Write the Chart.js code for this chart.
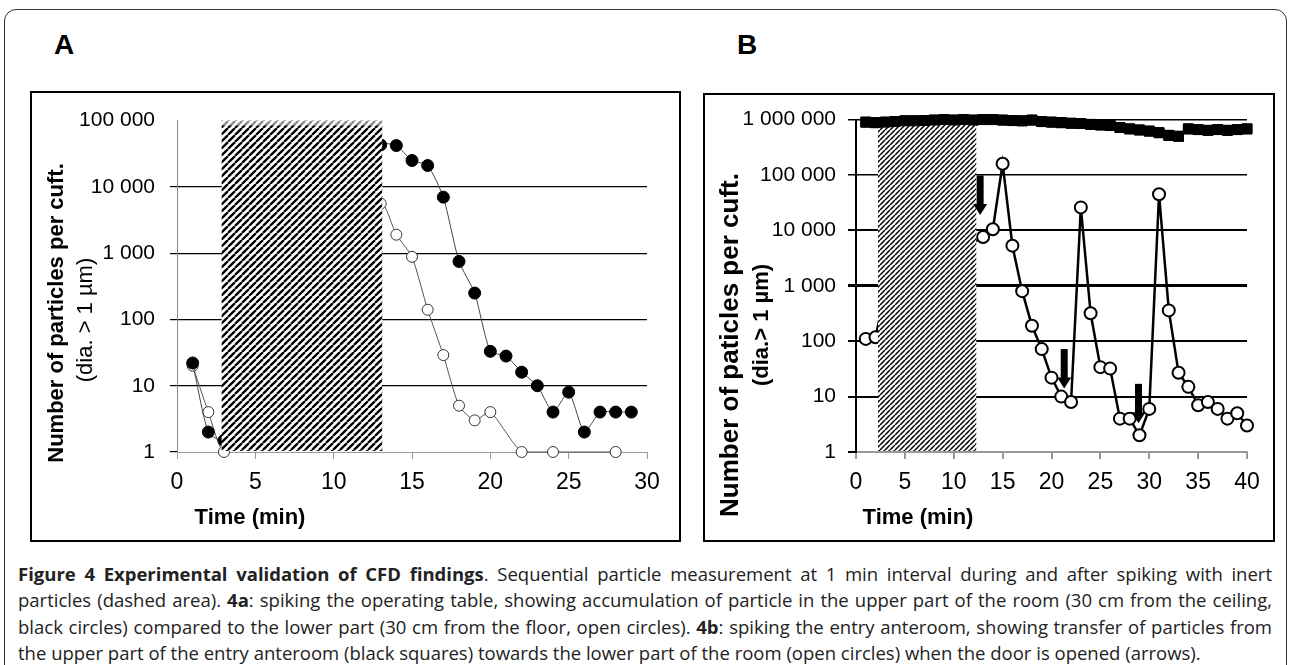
<!DOCTYPE html>
<html>
<head>
<meta charset="utf-8">
<script src="https://cdn.jsdelivr.net/npm/chart.js@4.4.1/dist/chart.umd.min.js"></script>
<style>
  body { margin: 0; width: 1290px; height: 665px; background: #fff; position: relative; overflow: hidden; }
  #frame { position: absolute; left: 4px; top: 9px; width: 1283px; height: 720px; border: 1.5px solid #333; border-radius: 12px; box-sizing: border-box; }
  .panel-label { position: absolute; font: bold 28px "Liberation Sans", Arial, sans-serif; color: #000; line-height: 1; }
  .box { position: absolute; border: 2px solid #000; box-sizing: border-box; }
  .box canvas { position: absolute; left: 0; top: 0; }
  #caption { position: absolute; left: 18px; top: 561px; width: 1254px; font-family: "Open Sans", sans-serif; font-size: 18.5px; line-height: 26.3px; color: #222; }
  #caption .j { text-align: justify; text-align-last: justify; }
</style>
</head>
<body>
<div id="frame"></div>
<div class="panel-label" style="left:54px; top:31px;">A</div>
<div class="panel-label" style="left:737px; top:31px;">B</div>

<div class="box" style="left:30px; top:91px; width:651px; height:451px;">
  <canvas id="chartA" width="647" height="447"></canvas>
</div>
<div class="box" style="left:703px; top:93px; width:572px; height:449px;">
  <canvas id="chartB" width="568" height="445"></canvas>
</div>

<div id="caption">
  <div class="j"><b>Figure 4 Experimental validation of CFD findings</b>. Sequential particle measurement at 1 min interval during and after spiking with inert</div>
  <div class="j">particles (dashed area). <b>4a</b>: spiking the operating table, showing accumulation of particle in the upper part of the room (30 cm from the ceiling,</div>
  <div class="j">black circles) compared to the lower part (30 cm from the floor, open circles). <b>4b</b>: spiking the entry anteroom, showing transfer of particles from</div>
  <div>the upper part of the entry anteroom (black squares) towards the lower part of the room (open circles) when the door is opened (arrows).</div>
</div>

<script>
// Panel A data (minutes 1..29), null = hidden under the spiking area or no reading
const timeA = [1,2,3,4,5,6,7,8,9,10,11,12,13,14,15,16,17,18,19,20,21,22,23,24,25,26,27,28,29];
const ceilingA = [22,2,1.5,null,null,null,null,null,null,null,null,null,43000,42000,25000,21000,7000,750,250,33,28,16,10,4,8,2,4,4,4];
const floorA = [20,4,1,null,null,null,null,null,null,null,null,null,5600,1900,880,140,29,5,3,4,null,1,null,1,null,null,null,1,null];
const ticksA = [1,10,100,1000,10000,100000];
const spikeA = [2.85, 13.1];
const spikeTopA = 100000;

// Panel B data (minutes 1..40)
const timeB = [1,2,3,4,5,6,7,8,9,10,11,12,13,14,15,16,17,18,19,20,21,22,23,24,25,26,27,28,29,30,31,32,33,34,35,36,37,38,39,40];
const anteroomB = [900000,880000,900000,920000,950000,950000,960000,980000,1000000,980000,1000000,980000,1000000,1000000,980000,960000,950000,980000,920000,900000,
                   880000,860000,850000,820000,800000,780000,720000,680000,650000,620000,580000,520000,500000,680000,660000,640000,660000,640000,660000,680000];
const roomB = [110,118,800,null,null,null,null,null,null,null,null,null,7600,10500,160000,5300,800,190,72,22,
               10,8,26000,320,34,32,4,4,2,6,45000,360,27,15,7,8,6,4,5,3];
const ticksB = [1,10,100,1000,10000,100000,1000000];
const spikeB = [2.25, 12.3];
const spikeTopB = 1000000;
// door openings: minute, arrow top value, arrow tip value
const arrowT = [12.7, 21.3, 28.9];
const arrowTop = [98000, 72, 17];
const arrowTip = [19000, 14, 3.3];

Chart.defaults.font.family = '"Liberation Sans", Arial, sans-serif';
Chart.defaults.color = '#000';

function spaced(v) {
    return String(v).replace(/\B(?=(\d{3})+(?!\d))/g, ' ');
}

function hatchPattern(ctx, size, lw) {
    const c = document.createElement('canvas');
    c.width = size;
    c.height = size;
    const g = c.getContext('2d');
    g.fillStyle = '#fff';
    g.fillRect(0, 0, size, size);
    g.strokeStyle = '#000';
    g.lineWidth = lw;
    g.beginPath();
    for (let k = -1; k <= 1; k++) {
        g.moveTo(k * size, size);
        g.lineTo(k * size + size, 0);
    }
    g.stroke();
    return ctx.createPattern(c, 'repeat');
}

// hatch for the spiking period, arrows and axis titles
function panelPlugin(opt) {
    return {
        id: 'panel',
        afterDatasetsDraw(chart) {
            const { ctx, chartArea } = chart;
            const x = chart.scales.x, y = chart.scales.y;
            const x0 = x.getPixelForValue(opt.spike[0]);
            const x1 = x.getPixelForValue(opt.spike[1]);
            const yTop = y.getPixelForValue(opt.spikeTop);
            const yBot = chartArea.bottom - 1;
            ctx.save();
            ctx.fillStyle = hatchPattern(ctx, opt.hatchSize, opt.hatchWidth);
            ctx.fillRect(x0, yTop, x1 - x0, yBot - yTop);
            ctx.fillStyle = 'rgba(255,255,255,0.55)';
            ctx.fillRect(x0, yTop, x1 - x0, 5);
            ctx.restore();

            // series that stays visible on top of the hatch
            if (opt.onTop != null) {
                chart.getDatasetMeta(opt.onTop).controller.draw();
            }

            if (opt.arrows) {
                ctx.save();
                ctx.fillStyle = '#000';
                opt.arrows.t.forEach((t, i) => {
                    const ax = x.getPixelForValue(t);
                    const a0 = y.getPixelForValue(opt.arrows.top[i]);
                    const a1 = y.getPixelForValue(opt.arrows.tip[i]);
                    ctx.fillRect(ax - 3.5, a0, 7, a1 - a0 - 10);
                    ctx.beginPath();
                    ctx.moveTo(ax - 7, a1 - 11);
                    ctx.lineTo(ax + 7, a1 - 11);
                    ctx.lineTo(ax, a1);
                    ctx.closePath();
                    ctx.fill();
                });
                ctx.restore();
            }
        },
        afterDraw(chart) {
            const ctx = chart.ctx;
            ctx.save();
            ctx.fillStyle = '#000';
            ctx.textAlign = 'center';
            ctx.textBaseline = 'middle';
            ctx.font = 'bold 22px "Liberation Sans", Arial, sans-serif';
            ctx.fillText('Time (min)', opt.xTitle[0], opt.xTitle[1]);
            opt.yTitle.forEach(line => {
                ctx.save();
                ctx.translate(line.x, line.y);
                ctx.rotate(-Math.PI / 2);
                ctx.font = line.font;
                ctx.fillText(line.text, 0, 0);
                ctx.restore();
            });
            ctx.restore();
        }
    };
}

function logAxis(ticks, max, o) {
    return {
        type: 'logarithmic',
        min: 1,
        max: max,
        afterBuildTicks: s => { s.ticks = ticks.map(v => ({ value: v })); },
        afterFit: s => { s.width = o.width; },
        ticks: {
            padding: o.padding,
            font: { size: 21 },
            color: '#000',
            callback: v => spaced(v)
        },
        grid: {
            drawTicks: true,
            tickLength: o.tickLength,
            color: c => (c.tick && (c.tick.value === 1 || c.tick.value === o.hideGrid)) ? 'rgba(0,0,0,0)' : '#000',
            tickColor: c => (c.tick && c.tick.value === o.hideTick) ? 'rgba(0,0,0,0)' : '#000',
            lineWidth: o.gridWidth
        },
        border: { display: true, color: o.borderColor, width: o.borderWidth }
    };
}

function timeAxis(max, o) {
    return {
        type: 'linear',
        min: 0,
        max: max,
        afterFit: s => { s.height = 88; },
        ticks: { stepSize: 5, padding: o.padding, font: { size: 23 }, color: '#000', maxRotation: 0 },
        grid: { drawOnChartArea: false, drawTicks: true, tickLength: 7, color: '#999', lineWidth: o.width },
        border: { display: true, color: '#999', width: o.width }
    };
}

const common = {
    responsive: false,
    animation: false,
    events: [],
    plugins: { legend: { display: false }, tooltip: { enabled: false } }
};

new Chart(document.getElementById('chartA'), {
    type: 'line',
    data: {
        labels: timeA,
        datasets: [
            {
                data: ceilingA.map((v, i) => ({ x: timeA[i], y: v })),
                borderColor: '#444', borderWidth: 1, tension: 0.2, spanGaps: true, clip: false,
                pointRadius: 6, pointBackgroundColor: '#000', pointBorderColor: '#000', pointBorderWidth: 1
            },
            {
                data: floorA.map((v, i) => ({ x: timeA[i], y: v })),
                borderColor: '#555', borderWidth: 1, tension: 0.2, spanGaps: true, clip: false,
                pointRadius: 5.5, pointBackgroundColor: '#fff', pointBorderColor: '#333', pointBorderWidth: 1
            }
        ]
    },
    options: Object.assign({}, common, {
        layout: { padding: { top: 18, right: 32, left: 0, bottom: 0 } },
        scales: {
            x: timeAxis(30, { padding: 10, width: 1 }),
            y: logAxis(ticksA, 100000, {
                width: 145, padding: 15, tickLength: 7, hideGrid: 100000, hideTick: 100000,
                gridWidth: 1.2, borderColor: '#888', borderWidth: 1
            })
        }
    }),
    plugins: [panelPlugin({
        spike: spikeA, spikeTop: spikeTopA, hatchSize: 7, hatchWidth: 2.3,
        xTitle: [218, 425],
        yTitle: [
            { text: 'Number of particles per cuft.', font: 'bold 22px "Liberation Sans", Arial, sans-serif', x: 25, y: 220 },
            { text: '(dia. > 1 \u00b5m)', font: '22px "Liberation Sans", Arial, sans-serif', x: 54, y: 227 }
        ]
    })]
});

const gridWidthB = c => {
    const v = c.tick ? c.tick.value : 0;
    if (v === 1000) return 3;
    if (v === 100000 || v === 1000000) return 1.5;
    return 2;
};

new Chart(document.getElementById('chartB'), {
    type: 'line',
    data: {
        labels: timeB,
        datasets: [
            {
                data: roomB.map((v, i) => ({ x: timeB[i], y: v })),
                borderColor: '#000', borderWidth: 2.5, spanGaps: true, clip: false,
                pointRadius: 6, pointBackgroundColor: '#fff', pointBorderColor: '#000', pointBorderWidth: 2
            },
            {
                data: anteroomB.map((v, i) => ({ x: timeB[i], y: v })),
                borderColor: '#000', borderWidth: 3, clip: false,
                pointStyle: 'rect', pointRadius: 7, pointBackgroundColor: '#000', pointBorderColor: '#000', pointBorderWidth: 1
            }
        ]
    },
    options: Object.assign({}, common, {
        layout: { padding: { top: 18, right: 26, left: 0, bottom: 0 } },
        scales: {
            x: timeAxis(40, { padding: 10, width: 2 }),
            y: logAxis(ticksB, 1000000, {
                width: 151, padding: 12, tickLength: 8, hideGrid: null, hideTick: null,
                gridWidth: gridWidthB, borderColor: '#000', borderWidth: 2
            })
        }
    }),
    plugins: [panelPlugin({
        spike: spikeB, spikeTop: spikeTopB, hatchSize: 5, hatchWidth: 1.5,
        onTop: 1,
        arrows: { t: arrowT, top: arrowTop, tip: arrowTip },
        xTitle: [213, 423],
        yTitle: [
            { text: 'Number of paticles per cuft.', font: 'bold 26px "Liberation Sans", Arial, sans-serif', x: 26, y: 250 },
            { text: '(dia.> 1 \u00b5m)', font: 'bold 22px "Liberation Sans", Arial, sans-serif', x: 57, y: 230 }
        ]
    })]
});
</script>
</body>
</html>
